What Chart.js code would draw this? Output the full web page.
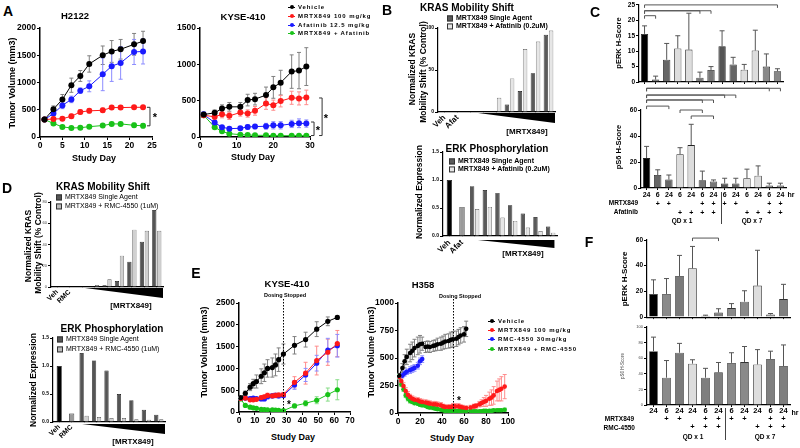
<!DOCTYPE html>
<html>
<head>
<meta charset="utf-8">
<title>MRTX849 combinations</title>
<script src="https://cdn.jsdelivr.net/npm/chart.js@4.4.1/dist/chart.umd.min.js"></script>
<style>
  body { margin: 0; background: #fff; }
  #fig { position: relative; width: 800px; height: 448px; overflow: hidden; font-family: "Liberation Sans", Arial, sans-serif; color: #000; }
  #fig canvas { position: absolute; }
  .t { position: absolute; white-space: nowrap; line-height: 1; transform: translate(-50%, -50%); }
  .lg { position: absolute; white-space: nowrap; line-height: 1; transform: translateY(-50%); }
  .mk { display: inline-block; position: relative; vertical-align: middle; }
  .vl { position: absolute; width: 1px; background: #444; }
</style>
</head>
<body>
<div id="fig"></div>
<script>
'use strict';

// ---- A: H2122 ----
let h2122Days = [1, 3, 5, 7, 9, 11, 14, 16, 18, 21, 23];
let h2122Veh = [320, 510, 690, 950, 1120, 1340, 1500, 1570, 1610, 1700, 1760];
let h2122VehErr = [20, 60, 90, 130, 100, 150, 170, 200, 180, 200, 180];
let h2122Mrtx = [320, 330, 335, 380, 460, 480, 490, 540, 540, 545, 545];
let h2122MrtxErr = [20, 30, 30, 40, 40, 40, 40, 30, 30, 30, 30];
let h2122Afat = [320, 430, 580, 690, 850, 930, 1150, 1300, 1360, 1560, 1570];
let h2122AfatErr = [20, 40, 60, 60, 50, 100, 300, 280, 300, 230, 230];
let h2122Combo = [320, 250, 185, 166, 170, 190, 210, 240, 240, 215, 205];
let h2122ComboErr = [20, 30, 30, 25, 25, 25, 25, 30, 30, 40, 40];

// ---- A: KYSE-410 ----
let kyseADays = [1, 4, 6, 8, 11, 13, 15, 18, 20, 22, 25, 27, 29];
let kyseAVeh = [309, 332, 392, 415, 415, 508, 521, 577, 683, 748, 900, 914, 969];
let kyseAVehErr = [30, 40, 50, 60, 60, 80, 80, 110, 150, 170, 230, 250, 260];
let kyseAMrtx = [300, 277, 314, 291, 337, 323, 360, 461, 438, 494, 540, 531, 545];
let kyseAMrtxErr = [30, 40, 50, 50, 50, 50, 60, 80, 70, 80, 90, 90, 100];
let kyseAAfat = [309, 198, 134, 115, 120, 138, 143, 148, 161, 161, 180, 189, 185];
let kyseAAfatErr = [40, 30, 20, 20, 20, 30, 30, 40, 50, 50, 50, 60, 50];
let kyseACombo = [300, 134, 78, 46, 32, 28, 23, 23, 18, 18, 18, 18, 18];
let kyseAComboErr = [30, 20, 15, 10, 8, 8, 5, 5, 5, 5, 5, 5, 5];
let aNames = ['Vehicle', 'MRTX849 100 mg/kg', 'Afatinib 12.5 mg/kg', 'MRTX849 + Afatinib'];

// ---- B: in vitro, afatinib ----
let bLabels = ['Veh', 'Afat', '', '', '', '', '', '', ''];
let bNames = ['MRTX849 Single Agent', 'MRTX849 + Afatinib (0.2uM)'];
let bKrasCtrl = [0, 0];
let bKrasSingle = [0, 0, 0, 9, 25, 46, 92];
let bKrasCombo = [0, 0, 17, 40, 75, 84, 97];
let bErkCtrl = [1.0, 0.52];
let bErkSingle = [0.89, 0.82, 0.77, 0.55, 0.40, 0.34, 0.17];
let bErkCombo = [0.48, 0.52, 0.33, 0.27, 0.15, 0.09, 0.06];

// ---- C: pERK / pS6, afatinib ----
let cHours = ['24', '6', '24', '6', '24', '6', '24', '6', '24', '6', '24', '6', '24'];
let cMrtx = ['', '+', '+', '', '', '+', '+', '+', '+', '', '', '+', '+'];
let cAfat = ['', '', '', '+', '+', '+', '+', '', '', '+', '+', '+', '+'];
let cPerk = [15.6, 0.8, 7.2, 10.9, 10.5, 1.4, 3.9, 11.6, 5.7, 4, 10.2, 5, 3.5];
let cPerkErr = [2.6, 1.1, 5.3, 4.1, 11.8, 1.8, 1.1, 5, 2.3, 1.7, 6.6, 4.1, 0.8];
let cPs6 = [23, 10, 6.5, 26, 33, 6, 5, 3.5, 3.5, 7.5, 9.5, 2, 2];
let cPs6Err = [9, 4, 3.5, 5, 16, 7, 1.2, 4, 4, 7, 7.5, 1.7, 1.7];
let cPerkBrackets = [[0, 12, 25], [0, 5, 23.1], [0, 6, 23.1], [0, 1, 21.5]];
let cPs6Brackets = [[0, 11, 76.7], [0, 12, 76.7], [0, 7, 71.5], [0, 8, 71.5], [0, 5, 67.7], [0, 6, 67.7], [0, 2, 63], [3, 5, 60], [4, 6, 55.4]];

// ---- D: in vitro, RMC-4550 ----
let dLabels = ['Veh', 'RMC', '', '', '', '', '', '', ''];
let dNames = ['MRTX849 Single Agent', 'MRTX849 + RMC-4550 (1uM)'];
let dKrasCtrl = [0, 0];
let dKrasSingle = [0, 0.8, 1.6, 5.6, 23.8, 42.6, 72.5];
let dKrasCombo = [0.5, 1.9, 7.2, 29.5, 54, 53, 53];
let dErkCtrl = [1.0, 0.15];
let dErkSingle = [1.23, 1.1, 0.92, 0.5, 0.39, 0.22, 0.13];
let dErkCombo = [0.11, 0.09, 0.07, 0.07, 0.05, 0.04, 0.05];

// ---- E: KYSE-410 ----
let kyseEDays = [1, 4, 7, 9, 11, 14, 16, 18, 21, 23, 25, 28, 35, 42, 49, 56, 62];
let kyseEVeh = [330, 430, 570, 650, 700, 820, 900, 1000, 1020, 1080, 1200, 1330, 1530, 1660, 1900, 2080, 2170];
let kyseEVehErr = [30, 50, 80, 100, 150, 170, 200, 200, 220, 250, 270, 230, 200, 170, 170, 100, 40];
let kyseEMrtx = [310, 320, 280, 280, 290, 330, 350, 380, 370, 380, 390, 400, 680, 890, 1180, 1370, 1570];
let kyseEMrtxErr = [30, 30, 30, 30, 30, 40, 40, 50, 50, 50, 50, 50, 130, 250, 330, 300, 300];
let kyseERmc = [310, 320, 310, 320, 310, 300, 300, 350, 370, 380, 370, 380, 620, 850, 1120, 1420, 1520];
let kyseERmcErr = [30, 30, 30, 30, 30, 40, 40, 50, 50, 50, 50, 50, 100, 150, 180, 270, 260];
let kyseECombo = [300, 150, 110, 95, 85, 60, 55, 50, 50, 45, 40, 30, 140, 200, 270, 400, 510];
let kyseEComboErr = [30, 20, 15, 15, 10, 10, 10, 10, 10, 10, 10, 10, 40, 60, 80, 150, 230];

// ---- E: H358 ----
let h358VehDays = [1, 4, 6, 8, 11, 13, 15, 18, 20, 22, 25, 27, 29, 32, 34, 36, 39, 41, 43, 46, 48, 50, 53, 55, 57, 60, 62];
let h358Veh = [340, 409, 470, 510, 545, 565, 590, 610, 625, 630, 600, 605, 600, 610, 615, 625, 630, 640, 650, 655, 665, 670, 675, 690, 705, 715, 765];
let h358VehErr = [20, 40, 60, 70, 80, 80, 80, 80, 80, 60, 50, 50, 50, 50, 50, 55, 60, 60, 65, 65, 70, 70, 70, 70, 70, 70, 70];
let h358RmcDays = [1, 4, 6, 8, 11, 13, 15, 18, 20, 22];
let h358Rmc = [330, 340, 360, 375, 390, 400, 410, 430, 470, 490];
let h358RmcErr = [20, 20, 25, 25, 30, 30, 30, 30, 30, 30];
let h358Days = [1, 3, 5, 7, 9, 11, 13, 15, 18, 20, 22, 25, 27, 29, 32, 34, 36, 39, 41, 43, 46, 48, 50, 52, 55, 57, 59, 62, 66, 69, 71, 74, 76, 78, 80, 83, 85, 87, 90, 92, 94, 97];
let h358Mrtx = [330, 290, 245, 200, 165, 145, 130, 120, 115, 105, 100, 95, 90, 85, 80, 80, 75, 70, 60, 55, 55, 55, 60, 60, 60, 55, 50, 45, 50, 60, 65, 80, 90, 100, 110, 130, 140, 160, 200, 210, 220, 240];
let h358MrtxErr = [20, 25, 30, 30, 30, 25, 25, 25, 25, 25, 25, 25, 25, 25, 25, 25, 25, 25, 20, 20, 20, 20, 25, 25, 25, 20, 20, 20, 20, 20, 20, 25, 30, 40, 50, 60, 70, 80, 90, 100, 110, 110];
let h358Combo = [330, 260, 215, 160, 130, 110, 100, 90, 85, 75, 70, 65, 55, 50, 45, 40, 35, 30, 25, 20, 20, 20, 20, 20, 20, 20, 20, 20, 20, 15, 15, 15, 15, 20, 20, 20, 20, 25, 25, 25, 25, 30];
let h358ComboErr = [20, 20, 20, 20, 20, 20, 15, 15, 15, 15, 15, 15, 15, 15, 15, 15, 10, 10, 10, 10, 10, 10, 10, 10, 10, 10, 10, 10, 10, 10, 10, 10, 10, 10, 10, 10, 10, 10, 10, 10, 10, 15];
let eNames = ['Vehicle', 'MRTX849 100 mg/kg', 'RMC-4550 30mg/kg', 'MRTX849 + RMC-4550'];

// ---- F: pERK / pS6, RMC-4550 ----
let fHours = ['24', '6', '24', '24', '6', '24', '6', '24', '24', '6', '24'];
let fMrtx = ['', '+', '+', '', '+', '+', '+', '+', '', '+', '+'];
let fRmc = ['', '', '', '+', '+', '+', '', '', '+', '+', '+'];
let fPerk = [18, 18, 32, 38, 1, 3.5, 7, 12, 24.5, 2, 14];
let fPerkErr = [11, 12, 16, 17, 0.5, 3, 3.5, 8.5, 27.5, 0.8, 11.5];
let fPs6 = [69, 35, 67, 53, 35, 42, 54, 55, 52, 59, 50];
let fPs6Err = [18, 22, 12, 5, 12, 12.5, 13, 20, 19, 10, 27];
let fPerkBrackets = [[3, 5, 61.5]];

// styles
let lineColors = ['#000000', '#ff1a1a', '#1a1aff', '#19c219'];
let errColors = ['#808080', '#ff8c8c', '#8c8cff', '#86dc86'];
let cColors = ['#000', '#666', '#666', '#ddd', '#ddd', '#777', '#777', '#555', '#666', '#ddd', '#ddd', '#888', '#888'];
let fColors = ['#000', '#8a8a8a', '#7a7a7a', '#ddd', '#7f7f7f', '#7f7f7f', '#8a8a8a', '#8a8a8a', '#ddd', '#7f7f7f', '#7f7f7f'];

Chart.defaults.font.family = '"Liberation Sans", Arial, sans-serif';
Chart.defaults.font.weight = 'bold';
Chart.defaults.color = '#000';

let fig = document.getElementById('fig');

// error bars drawn from each dataset's err array
let errorBars = {
    id: 'errorBars',
    beforeDatasetsDraw(chart) {
        let ctx = chart.ctx;
        let ys = chart.scales.y;
        chart.data.datasets.forEach((ds, i) => {
            if (!ds.err) return;
            let pts = chart.getDatasetMeta(i).data;
            ctx.save();
            ctx.strokeStyle = ds.errColor;
            ctx.lineWidth = 1;
            pts.forEach((p, j) => {
                let e = ds.err[j];
                let raw = ds.data[j];
                if (!e || raw === null) return;
                let v = typeof raw === 'object' ? raw.y : raw;
                let top = ys.getPixelForValue(v + e);
                let bot = ys.getPixelForValue(ds.errUp ? v : v - e);
                let cap = ds.cap || 2;
                ctx.beginPath();
                ctx.moveTo(p.x, bot);
                ctx.lineTo(p.x, top);
                ctx.moveTo(p.x - cap, top);
                ctx.lineTo(p.x + cap, top);
                if (!ds.errUp) {
                    ctx.moveTo(p.x - cap, bot);
                    ctx.lineTo(p.x + cap, bot);
                }
                ctx.stroke();
            });
            ctx.restore();
        });
    }
};

// brackets, dose wedge and dosing-stopped line
function marks(cfg) {
    return {
        id: 'marks',
        afterDraw(chart) {
            let ctx = chart.ctx, xs = chart.scales.x, ys = chart.scales.y, a = chart.chartArea;
            ctx.save();
            ctx.lineWidth = 1;
            ctx.strokeStyle = '#555';
            (cfg.brackets || []).forEach(b => {
                let x1 = xs.getPixelForValue(b[0]), x2 = xs.getPixelForValue(b[1]), y = ys.getPixelForValue(b[2]);
                ctx.beginPath();
                ctx.moveTo(x1, y + 3);
                ctx.lineTo(x1, y);
                ctx.lineTo(x2, y);
                ctx.lineTo(x2, y + 3);
                ctx.stroke();
            });
            ctx.strokeStyle = '#333';
            (cfg.side || []).forEach(b => {
                let x = xs.getPixelForValue(b[0]), y1 = ys.getPixelForValue(b[1]), y2 = ys.getPixelForValue(b[2]);
                ctx.beginPath();
                ctx.moveTo(x - 3, y1);
                ctx.lineTo(x, y1);
                ctx.lineTo(x, y2);
                ctx.lineTo(x - 3, y2);
                ctx.stroke();
            });
            if (cfg.wedge) {
                let w = cfg.wedge;
                let x1 = xs.getPixelForValue(w[0]), x2 = xs.getPixelForValue(w[1]), y = a.bottom + w[2];
                ctx.fillStyle = '#000';
                ctx.beginPath();
                ctx.moveTo(x1, y);
                ctx.lineTo(x2, y);
                ctx.lineTo(x2, y + w[3]);
                ctx.closePath();
                ctx.fill();
            }
            if (cfg.stop !== undefined) {
                let x = Math.round(xs.getPixelForValue(cfg.stop)) + 0.5;
                ctx.setLineDash([1.5, 1.5]);
                ctx.strokeStyle = '#000';
                ctx.beginPath();
                ctx.moveTo(x, a.top - 4);
                ctx.lineTo(x, a.bottom);
                ctx.stroke();
            }
            ctx.restore();
        }
    };
}

// pos = [left, top, width, height, padTop, padRight]
function makeChart(pos, type, data, scales, extra) {
    let c = document.createElement('canvas');
    c.width = pos[2];
    c.height = pos[3];
    c.style.left = pos[0] + 'px';
    c.style.top = pos[1] + 'px';
    fig.appendChild(c);
    return new Chart(c, {
        type: type,
        data: data,
        options: {
            responsive: false,
            animation: false,
            layout: { padding: { top: pos[4], right: pos[5], left: 0, bottom: 0 } },
            scales: scales,
            plugins: { legend: { display: false }, tooltip: { enabled: false } }
        },
        plugins: [errorBars, marks(extra || {})]
    });
}

function yLin(w, min, max, step, fs, opts) {
    opts = opts || {};
    return {
        type: 'linear', min: min, max: max,
        afterFit: s => { s.width = w; },
        border: { color: '#000', width: opts.bw || 1.2 },
        grid: { drawOnChartArea: false, color: '#000', tickLength: opts.tl || 3, lineWidth: 1 },
        ticks: {
            stepSize: step, padding: 1, color: opts.color || '#000',
            font: { size: fs, weight: opts.normal ? 'normal' : 'bold' },
            callback: opts.cb || (v => String(v))
        }
    };
}

function xLin(h, min, max, step, fs) {
    return {
        type: 'linear', min: min, max: max,
        afterFit: s => { s.height = h; },
        border: { color: '#000', width: 1.5 },
        grid: { drawOnChartArea: false, color: '#000', tickLength: 3, lineWidth: 1 },
        ticks: { stepSize: step, padding: 1, maxRotation: 0, font: { size: fs }, callback: v => String(v) }
    };
}

function xCat(h, fs, opts) {
    return {
        type: 'category', offset: true,
        afterFit: s => { s.height = h; },
        border: { color: '#000', width: 1.2 },
        grid: { drawOnChartArea: false, offset: false, color: '#000', tickLength: opts.tl, lineWidth: 1 },
        ticks: {
            display: !opts.hide, autoSkip: false, padding: opts.pad,
            minRotation: opts.rot || 0, maxRotation: opts.rot || 0,
            font: { size: fs, lineHeight: opts.lh || 1.2 }
        }
    };
}

function lineSet(label, days, vals, errs, k, r) {
    return {
        label: label,
        data: days.map((d, i) => ({ x: d, y: vals[i] })),
        err: errs, errColor: errColors[k], cap: 2,
        borderColor: lineColors[k], backgroundColor: lineColors[k],
        borderWidth: 1, pointRadius: r, pointBorderWidth: 0, pointHoverRadius: r
    };
}

function doseBars(names, ctrl, single, combo, ctrlColors, dark, light) {
    let pad = n => Array(n).fill(null);
    let base = { borderWidth: 0.7, categoryPercentage: 0.8, skipNull: true };
    return [
        Object.assign({ label: 'control', data: ctrl.concat(pad(single.length)), backgroundColor: ctrlColors, borderColor: '#111', barPercentage: 0.52 }, base),
        Object.assign({ label: names[0], data: pad(ctrl.length).concat(single), backgroundColor: dark, borderColor: '#111', barPercentage: 0.85 }, base),
        Object.assign({ label: names[1], data: pad(ctrl.length).concat(combo), backgroundColor: light, borderColor: '#555', barPercentage: 0.85 }, base)
    ];
}

function txt(x, y, s, size, opts) {
    opts = opts || {};
    let d = document.createElement('div');
    d.className = 't';
    d.textContent = s;
    d.style.left = x + 'px';
    d.style.top = y + 'px';
    d.style.fontSize = size + 'px';
    d.style.fontWeight = opts.normal ? 'normal' : 'bold';
    if (opts.rot) d.style.transform = 'translate(-50%,-50%) rotate(-90deg)';
    if (opts.right) d.style.transform = 'translate(-100%,-50%)';
    if (opts.ls) d.style.letterSpacing = opts.ls + 'px';
    if (opts.color) d.style.color = opts.color;
    fig.appendChild(d);
}

function lineLegend(x, y, gap, names) {
    names.forEach((n, i) => {
        let d = document.createElement('div');
        d.className = 'lg';
        d.style.cssText = `left:${x}px;top:${y + i * gap}px;font-size:6px;font-weight:bold;letter-spacing:0.9px`;
        d.innerHTML = `<span class="mk" style="width:7px;height:1px;background:${lineColors[i]};margin-right:3px">` +
            `<span style="position:absolute;left:1.5px;top:-2px;width:4px;height:4px;border-radius:50%;background:${lineColors[i]}"></span></span>${n}`;
        fig.appendChild(d);
    });
}

function barLegend(x, y, gap, names, fills, size, weight) {
    names.forEach((n, i) => {
        let d = document.createElement('div');
        d.className = 'lg';
        d.style.cssText = `left:${x}px;top:${y + i * gap}px;font-size:${size}px;font-weight:${weight}`;
        d.innerHTML = `<span class="mk" style="width:4px;height:4px;border:1px solid #333;background:${fills[i]};margin-right:3px"></span>${n}`;
        fig.appendChild(d);
    });
}

function vline(x, y1, y2) {
    let d = document.createElement('div');
    d.className = 'vl';
    d.style.left = x + 'px';
    d.style.top = y1 + 'px';
    d.style.height = (y2 - y1) + 'px';
    fig.appendChild(d);
}

// ===== A =====
makeChart([0, 20, 162, 150, 8, 10], 'line', {
    datasets: [
        lineSet(aNames[0], h2122Days, h2122Veh, h2122VehErr, 0, 3),
        lineSet(aNames[1], h2122Days, h2122Mrtx, h2122MrtxErr, 1, 3),
        lineSet(aNames[2], h2122Days, h2122Afat, h2122AfatErr, 2, 3),
        lineSet(aNames[3], h2122Days, h2122Combo, h2122ComboErr, 3, 3)
    ]
}, { x: xLin(33, 0, 25, 5, 8.5), y: yLin(40, 0, 2000, 500, 8.5, { bw: 1.5 }) }, { side: [[24.55, 545, 205]] });

makeChart([172, 20, 160, 150, 8, 22], 'line', {
    datasets: [
        lineSet(aNames[0], kyseADays, kyseAVeh, kyseAVehErr, 0, 3),
        lineSet(aNames[1], kyseADays, kyseAMrtx, kyseAMrtxErr, 1, 3),
        lineSet(aNames[2], kyseADays, kyseAAfat, kyseAAfatErr, 2, 3),
        lineSet(aNames[3], kyseADays, kyseACombo, kyseAComboErr, 3, 3)
    ]
}, { x: xLin(33, 0, 30, 10, 8.5), y: yLin(28, 0, 1500, 500, 8.5, { bw: 1.5 }) }, { side: [[33.3, 537, 20], [31.1, 206, 20]] });

txt(8, 11, 'A', 14);
txt(75, 16, 'H2122', 9.5);
txt(243, 17, 'KYSE-410', 9.5);
txt(12, 83, 'Tumor Volume (mm3)', 9, { rot: true });
txt(94, 158, 'Study Day', 9);
txt(253, 157, 'Study Day', 9);
txt(155, 117, '*', 11);
txt(326, 118, '*', 11);
txt(318, 130, '*', 11);
lineLegend(288, 7.3, 8.7, aNames);

// ===== B =====
makeChart([405, 20, 157, 112, 8, 7], 'bar', {
    labels: bLabels,
    datasets: doseBars(bNames, bKrasCtrl, bKrasSingle, bKrasCombo, ['#000', '#9a9a9a'], '#5a5a5a', '#e6e6e6')
}, { x: xCat(20, 8, { tl: 0, pad: 1, rot: 45 }), y: yLin(33, 0, 100, 50, 5) }, { wedge: [2.58, 8.5, 1, 10] });

makeChart([423, 145, 140, 115, 7, 6], 'bar', {
    labels: bLabels,
    datasets: doseBars(bNames, bErkCtrl, bErkSingle, bErkCombo, ['#000', '#9a9a9a'], '#5a5a5a', '#e6e6e6')
}, { x: xCat(24, 8, { tl: 0, pad: 2, rot: 45 }), y: yLin(20, 0, 1.5, 0.5, 5, { cb: v => v.toFixed(1) }) }, { wedge: [2.26, 8.3, 4, 8] });

txt(387, 10, 'B', 14);
txt(467, 8, 'KRAS Mobility Shift', 10);
txt(497, 149, 'ERK Phosphorylation', 10);
txt(412, 69, 'Normalized KRAS', 8.5, { rot: true });
txt(423, 72, 'Mobility Shift (% Control)', 8.5, { rot: true });
txt(419, 192, 'Normalized Expression', 8.5, { rot: true });
txt(527, 132, '[MRTX849]', 8);
txt(523, 254, '[MRTX849]', 8);
barLegend(447, 18.3, 8, bNames, ['#5a5a5a', '#e6e6e6'], 7, 'bold');
barLegend(449, 160.7, 8.6, bNames, ['#5a5a5a', '#e6e6e6'], 7, 'bold');

// ===== C =====
makeChart([622, 0, 172, 90, 4, 11], 'bar', {
    labels: cHours,
    datasets: [{ data: cPerk, err: cPerkErr, errUp: true, errColor: '#555', cap: 2.5, backgroundColor: cColors, borderColor: '#222', borderWidth: 0.8, barPercentage: 0.66, categoryPercentage: 1 }]
}, { x: xCat(8, 6, { tl: 2, pad: 0, hide: true }), y: yLin(17, 0, 25, 5, 6.5) }, { brackets: cPerkBrackets });

makeChart([622, 84, 172, 146, 26, 8], 'bar', {
    labels: cHours.map((h, i) => [h, cMrtx[i], cAfat[i]]),
    datasets: [{ data: cPs6, err: cPs6Err, errUp: true, errColor: '#555', cap: 2.5, backgroundColor: cColors, borderColor: '#222', borderWidth: 0.8, barPercentage: 0.66, categoryPercentage: 1 }]
}, { x: xCat(42, 7, { tl: 2, pad: 0, lh: 1.31 }), y: yLin(19, 0, 60, 20, 6.5) }, { brackets: cPs6Brackets });

txt(595, 12, 'C', 14);
txt(619, 43, 'pERK H-Score', 7.5, { rot: true });
txt(619, 147, 'pS6 H-Score', 7.5, { rot: true });
txt(638, 203, 'MRTX849', 6.5, { right: true });
txt(638, 212, 'Afatinib', 6.5, { right: true });
txt(791, 194, 'hr', 7);
txt(682, 221, 'QD x 1', 6.5);
txt(752, 221, 'QD x 7', 6.5);
vline(721, 192, 224);

// ===== D =====
makeChart([35, 195, 135, 112, 7, 7], 'bar', {
    labels: dLabels,
    datasets: doseBars(dNames, dKrasCtrl, dKrasSingle, dKrasCombo, ['#000', '#9a9a9a'], '#555', '#d0d0d0')
}, { x: xCat(20, 7, { tl: 0, pad: 1, rot: 45 }), y: yLin(16, 0, 80, 20, 4, { normal: true, color: '#444' }) }, { wedge: [2.23, 8.5, 1, 10] });

makeChart([38, 330, 135, 112, 8, 8], 'bar', {
    labels: dLabels,
    datasets: doseBars(dNames, dErkCtrl, dErkSingle, dErkCombo, ['#000', '#9a9a9a'], '#555', '#d0d0d0')
}, { x: xCat(20, 7, { tl: 0, pad: 1, rot: 45 }), y: yLin(15, 0, 1.5, 0.5, 5, { cb: v => v.toFixed(1) }) }, { wedge: [1.83, 8.5, 2, 10] });

txt(7, 188, 'D', 14);
txt(103, 187, 'KRAS Mobility Shift', 10);
txt(112, 329, 'ERK Phosphorylation', 10);
txt(28, 246, 'Normalized KRAS', 8.5, { rot: true });
txt(38, 243, 'Mobility Shift (% Control)', 8.5, { rot: true });
txt(33, 380, 'Normalized Expression', 8.5, { rot: true });
txt(131, 306, '[MRTX849]', 8);
txt(133, 442, '[MRTX849]', 8);
barLegend(56, 196.7, 9.3, dNames, ['#555', '#bbb'], 7, 'normal');
barLegend(57, 339, 10, dNames, ['#555', '#bbb'], 7, 'normal');

// ===== E =====
makeChart([212, 295, 148, 135, 8, 10], 'line', {
    datasets: [
        lineSet(eNames[0], kyseEDays, kyseEVeh, kyseEVehErr, 0, 2.6),
        lineSet(eNames[1], kyseEDays, kyseEMrtx, kyseEMrtxErr, 1, 2.6),
        lineSet(eNames[2], kyseEDays, kyseERmc, kyseERmcErr, 2, 2.6),
        lineSet(eNames[3], kyseEDays, kyseECombo, kyseEComboErr, 3, 2.6)
    ]
}, { x: xLin(18, 0, 70, 10, 8.5), y: yLin(27, 0, 2500, 500, 8.5, { bw: 1.5 }) }, { stop: 28 });

makeChart([375, 295, 143, 135, 8, 10], 'line', {
    datasets: [
        lineSet(eNames[0], h358VehDays, h358Veh, h358VehErr, 0, 2.3),
        lineSet(eNames[1], h358Days, h358Mrtx, h358MrtxErr, 1, 2.3),
        lineSet(eNames[2], h358RmcDays, h358Rmc, h358RmcErr, 2, 2.3),
        lineSet(eNames[3], h358Days, h358Combo, h358ComboErr, 3, 2.3)
    ]
}, { x: xLin(17, 0, 100, 20, 8.5), y: yLin(23, 0, 1000, 250, 8.5, { bw: 1.5 }) }, { stop: 50 });

txt(196, 273, 'E', 14);
txt(287, 284, 'KYSE-410', 9.5);
txt(423, 285, 'H358', 9.5);
txt(285, 296, 'Dosing Stopped', 5.5);
txt(460, 297, 'Dosing Stopped', 5.5);
txt(204, 352, 'Tumor Volume (mm3)', 9, { rot: true });
txt(371, 352, 'Tumor Volume (mm3)', 9, { rot: true });
txt(293, 437, 'Study Day', 9);
txt(452, 438, 'Study Day', 9);
txt(289, 405, '*', 10);
txt(459, 401, '*', 10);
lineLegend(488, 320.7, 9.3, eNames);

// ===== F =====
makeChart([625, 230, 172, 92, 10, 7], 'bar', {
    labels: fHours,
    datasets: [{ data: fPerk, err: fPerkErr, errUp: true, errColor: '#555', cap: 2.5, backgroundColor: fColors, borderColor: '#333', borderWidth: 0.8, barPercentage: 0.67, categoryPercentage: 1 }]
}, { x: xCat(4, 6, { tl: 2, pad: 0, hide: true }), y: yLin(22, 0, 60, 20, 6.5) }, { brackets: fPerkBrackets });

makeChart([630, 322, 168, 120, 5, 8], 'bar', {
    labels: fHours.map((h, i) => [h, fMrtx[i], fRmc[i]]),
    datasets: [{ data: fPs6, err: fPs6Err, errUp: true, errColor: '#555', cap: 2.5, backgroundColor: fColors, borderColor: '#333', borderWidth: 0.8, barPercentage: 0.67, categoryPercentage: 1 }]
}, { x: xCat(37, 7.5, { tl: 2, pad: 0, lh: 1.07 }), y: yLin(17, 0, 100, 20, 4, { normal: true, color: '#444' }) });

txt(589, 242, 'F', 14);
txt(625, 279, 'pERK H-Score', 8, { rot: true });
txt(623, 366, 'pS6 H-Score', 4.5, { rot: true, normal: true, color: '#444' });
txt(634, 419, 'MRTX849', 6.5, { right: true });
txt(635, 428, 'RMC-4550', 6.5, { right: true });
txt(795, 412, 'hr', 7);
txt(693, 437, 'QD x 1', 6.5);
txt(765, 437, 'QD x 7', 6.5);
vline(725, 408, 440);
</script>
</body>
</html>
